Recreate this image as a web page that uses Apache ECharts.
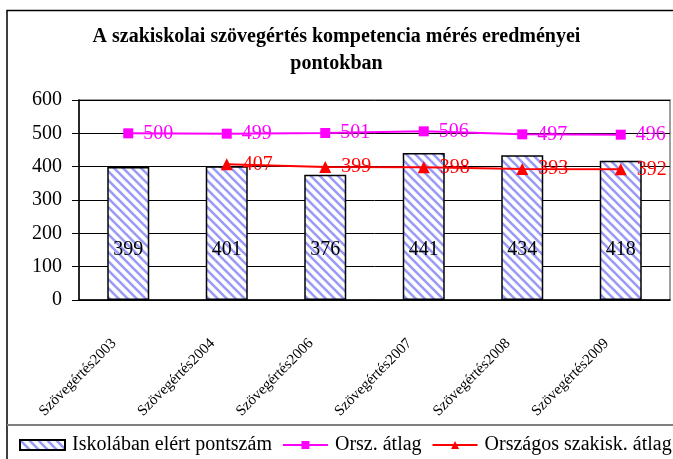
<!DOCTYPE html>
<html>
<head>
<meta charset="utf-8">
<script src="https://cdn.jsdelivr.net/npm/echarts@6/dist/echarts.min.js"></script>
<style>
  html, body { margin: 0; padding: 0; background: #fff; }
  #main { width: 673px; height: 459px; }
</style>
</head>
<body>
<div id="main"></div>
<script>
// adatok
var categories = ['Szövegértés2003', 'Szövegértés2004', 'Szövegértés2006', 'Szövegértés2007', 'Szövegértés2008', 'Szövegértés2009'];
var iskola = [399, 401, 376, 441, 434, 418];
var orszAtlag = [500, 499, 501, 506, 497, 496];
var szakiskAtlag = [null, 407, 399, 398, 393, 392];
var seriesNames = ['Iskolában elért pontszám', 'Orsz. átlag', 'Országos szakisk. átlag'];

var serif = 'Liberation Serif';

// csíkos kitöltés az oszlopokhoz
function stripes() {
    var c = document.createElement('canvas');
    c.width = 9;
    c.height = 9;
    var ctx = c.getContext('2d');
    ctx.fillStyle = '#fff';
    ctx.fillRect(0, 0, 9, 9);
    ctx.strokeStyle = '#9a9af8';
    ctx.lineWidth = 2.6;
    for (var k = -1; k <= 1; k++) {
        ctx.beginPath();
        ctx.moveTo(k * 9 - 2, -2);
        ctx.lineTo(k * 9 + 11, 11);
        ctx.stroke();
    }
    return c;
}

var myChart = echarts.init(document.getElementById('main'));
var options = {
    animation: false,
    title: {
        text: 'A szakiskolai szövegértés kompetencia mérés eredményei\npontokban',
        left: 'center',
        top: 18,
        padding: [5, 0, 5, 16],
        textStyle: { fontFamily: serif, fontSize: 20, fontWeight: 'bold', color: '#000', lineHeight: 27 }
    },
    legend: {
        left: 14,
        top: 430,
        width: 1200,
        itemWidth: 45,
        itemHeight: 10,
        itemGap: 10,
        textStyle: { fontFamily: serif, fontSize: 20, color: '#000', padding: [0, 0, 0, 2] },
        data: [
            { name: seriesNames[0], icon: 'rect' },
            seriesNames[1],
            seriesNames[2]
        ]
    },
    grid: {
        left: 79, right: 3, top: 100, bottom: 159,
        show: true, borderColor: '#808080', borderWidth: 1.5
    },
    xAxis: {
        type: 'category',
        data: categories,
        axisLine: { lineStyle: { color: '#000', width: 1.5 } },
        axisTick: { length: 5, lineStyle: { color: '#000' } },
        axisLabel: {
            rotate: 45, margin: 27, padding: [0, 20, 0, 0],
            fontFamily: serif, fontSize: 15, color: '#000'
        }
    },
    yAxis: {
        type: 'value',
        min: 0, max: 600, interval: 100,
        axisLine: { show: true, lineStyle: { color: '#000', width: 1.5 } },
        axisTick: { show: true, length: 7, lineStyle: { color: '#000' } },
        axisLabel: { margin: 17, fontFamily: serif, fontSize: 20, color: '#000' },
        splitLine: { lineStyle: { color: '#000', width: 1 } }
    },
    graphic: [
        {
            type: 'rect', silent: true,
            shape: { x: 7, y: 10.5, width: 700, height: 500 },
            style: { fill: null, stroke: '#000', lineWidth: 1.5 }
        },
        {
            type: 'line', silent: true,
            shape: { x1: 7, y1: 425, x2: 673, y2: 425 },
            style: { stroke: '#808080', lineWidth: 2 }
        }
    ],
    series: [
        {
            name: seriesNames[0],
            type: 'bar',
            data: iskola,
            barWidth: 42,
            itemStyle: { color: { image: stripes(), repeat: 'repeat' }, borderColor: '#000', borderWidth: 1.5 },
            label: {
                show: true, position: 'insideBottom', distance: 40,
                fontFamily: serif, fontSize: 20, color: '#000'
            }
        },
        {
            name: seriesNames[1],
            type: 'line',
            data: orszAtlag,
            symbol: 'rect',
            symbolSize: 10,
            lineStyle: { color: '#ff00ff', width: 2 },
            itemStyle: { color: '#ff00ff' },
            label: {
                show: true, position: 'right', distance: 10,
                fontFamily: serif, fontSize: 20, color: '#ff00ff'
            }
        },
        {
            name: seriesNames[2],
            type: 'line',
            data: szakiskAtlag,
            symbol: 'triangle',
            symbolSize: 12,
            lineStyle: { color: '#ff0000', width: 2 },
            itemStyle: { color: '#ff0000' },
            label: {
                show: true, position: 'right', distance: 10,
                fontFamily: serif, fontSize: 20, color: '#ff0000'
            }
        }
    ]
};
myChart.setOption(options);
</script>
</body>
</html>
